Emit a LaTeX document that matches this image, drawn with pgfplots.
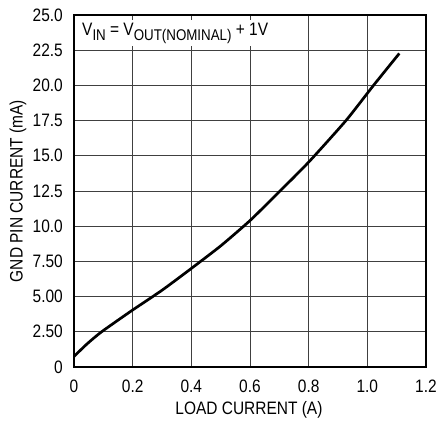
\documentclass[border=0pt]{standalone}
\usepackage{fontspec}
\setmainfont{Liberation Sans}[FakeStretch=0.86]
\usepackage{pgfplots}
\pgfplotsset{compat=1.18}
\begin{document}
\fontsize{18bp}{21bp}\selectfont
\begin{tikzpicture}
\path[use as bounding box] (-74bp,-54bp) rectangle (365bp,367bp);
\begin{axis}[
  at={(0,0)}, anchor=south west,
  scale only axis, width=352bp, height=352bp,
  xmin=0, xmax=1.2, ymin=0, ymax=25,
  xtick={0,0.2,0.4,0.6,0.8,1.0,1.2},
  xticklabels={0,0.2,0.4,0.6,0.8,1.0,1.2},
  ytick={0,2.5,5,7.5,10,12.5,15,17.5,20,22.5,25},
  yticklabels={0,2.50,5.00,7.50,10.0,12.5,15.0,17.5,20.0,22.5,25.0},
  major tick length=0pt,
  grid=major,
  major grid style={black!75, line width=0.8bp},
  axis line style={black, line width=1.4bp},
  yticklabel style={anchor=east, inner sep=0pt, xshift=-11bp},
  xticklabel style={anchor=north, inner sep=0pt, yshift=-13bp},
  ylabel={GND PIN CURRENT (mA)},
  xlabel={LOAD CURRENT (A)},
  ylabel style={at={(axis description cs:-0.159,0.5)}, anchor=center},
  xlabel style={at={(axis description cs:0.497,-0.122)}, anchor=center},
  clip=false,
]
\addplot[black, line width=2.7bp, line join=round, smooth, tension=0.35] coordinates {
 (0,0.75) (0.045,1.65) (0.094,2.5) (0.2,4.05) (0.3,5.45) (0.4,7.0)
 (0.5,8.6) (0.6,10.4) (0.7,12.45) (0.8,14.55) (0.927,17.5)
 (1.021,20.0) (1.109,22.27)
};
\node[anchor=north west, fill=white, inner xsep=3bp, inner ysep=3bp]
  at ([xshift=5bp,yshift=-5bp]rel axis cs:0,1)
  {V\raisebox{-4.5bp}{\fontsize{15.5bp}{15.5bp}\selectfont IN} = V\raisebox{-4.5bp}{\fontsize{15.5bp}{15.5bp}\selectfont OUT(NOMINAL)} + 1V};
\end{axis}
\end{tikzpicture}
\end{document}
